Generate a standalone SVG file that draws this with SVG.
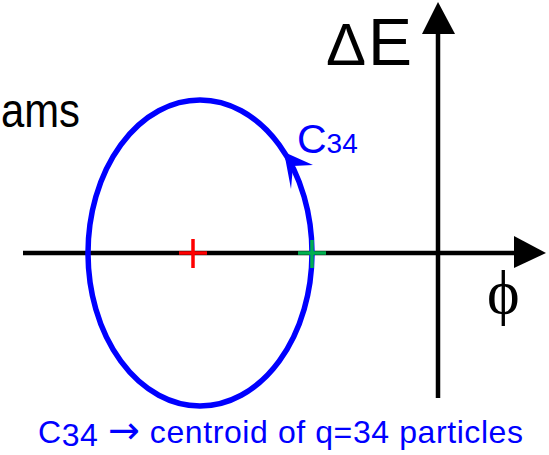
<svg xmlns="http://www.w3.org/2000/svg" width="549" height="455" viewBox="0 0 549 455">
<style>
.axis{stroke:#000;stroke-width:4.5;fill:none}
.sans{font-family:"Liberation Sans",Arial,sans-serif}
.blue{fill:#0000ff}
</style>
<rect width="549" height="455" fill="#fff"/>
<g id="connectors">
<line class="axis" x1="23" y1="253" x2="516" y2="253"/>
<polygon points="546,253 514,236 514,268" fill="#000"/>
<line class="axis" x1="438" y1="398" x2="438" y2="32"/>
<polygon points="438,2 422,34 455,34" fill="#000"/>
</g>
<g id="orbit">
<ellipse cx="200" cy="253" rx="112" ry="153" fill="none" stroke="#0000ff" stroke-width="5.5"/>
<polygon points="284,152 313,165 293,166 291,189" fill="#0000ff"/>
</g>
<g id="red-cross" stroke="#ff0000" stroke-width="3.5">
<line x1="179" y1="253" x2="207" y2="253"/>
<line x1="193" y1="239" x2="193" y2="268"/>
</g>
<g id="green-cross" stroke="#00b050" stroke-width="3.5">
<line x1="298" y1="253" x2="326" y2="253"/>
<line x1="312" y1="240" x2="312" y2="268"/>
</g>
<g id="labels">
<text class="sans" x="1" y="127" font-size="48" textLength="79" lengthAdjust="spacingAndGlyphs" fill="#000">ams</text>
<text class="sans" y="65" font-size="66" fill="#000"><tspan x="326" font-size="60">Δ</tspan><tspan x="368">E</tspan></text>
<text class="sans blue" x="297" y="153" font-size="41">C<tspan font-size="28">34</tspan></text>
<text x="487" y="313" font-size="62" font-family="'Liberation Serif','Times New Roman',serif" fill="#000">ϕ</text>
<text class="sans blue" x="38" y="443" font-size="32" textLength="485" lengthAdjust="spacing">C<tspan dy="3">34</tspan><tspan dy="-3"> </tspan><tspan font-family="'DejaVu Sans',sans-serif" font-size="38">→</tspan><tspan> centroid of q=34 particles</tspan></text>
</g>
</svg>
